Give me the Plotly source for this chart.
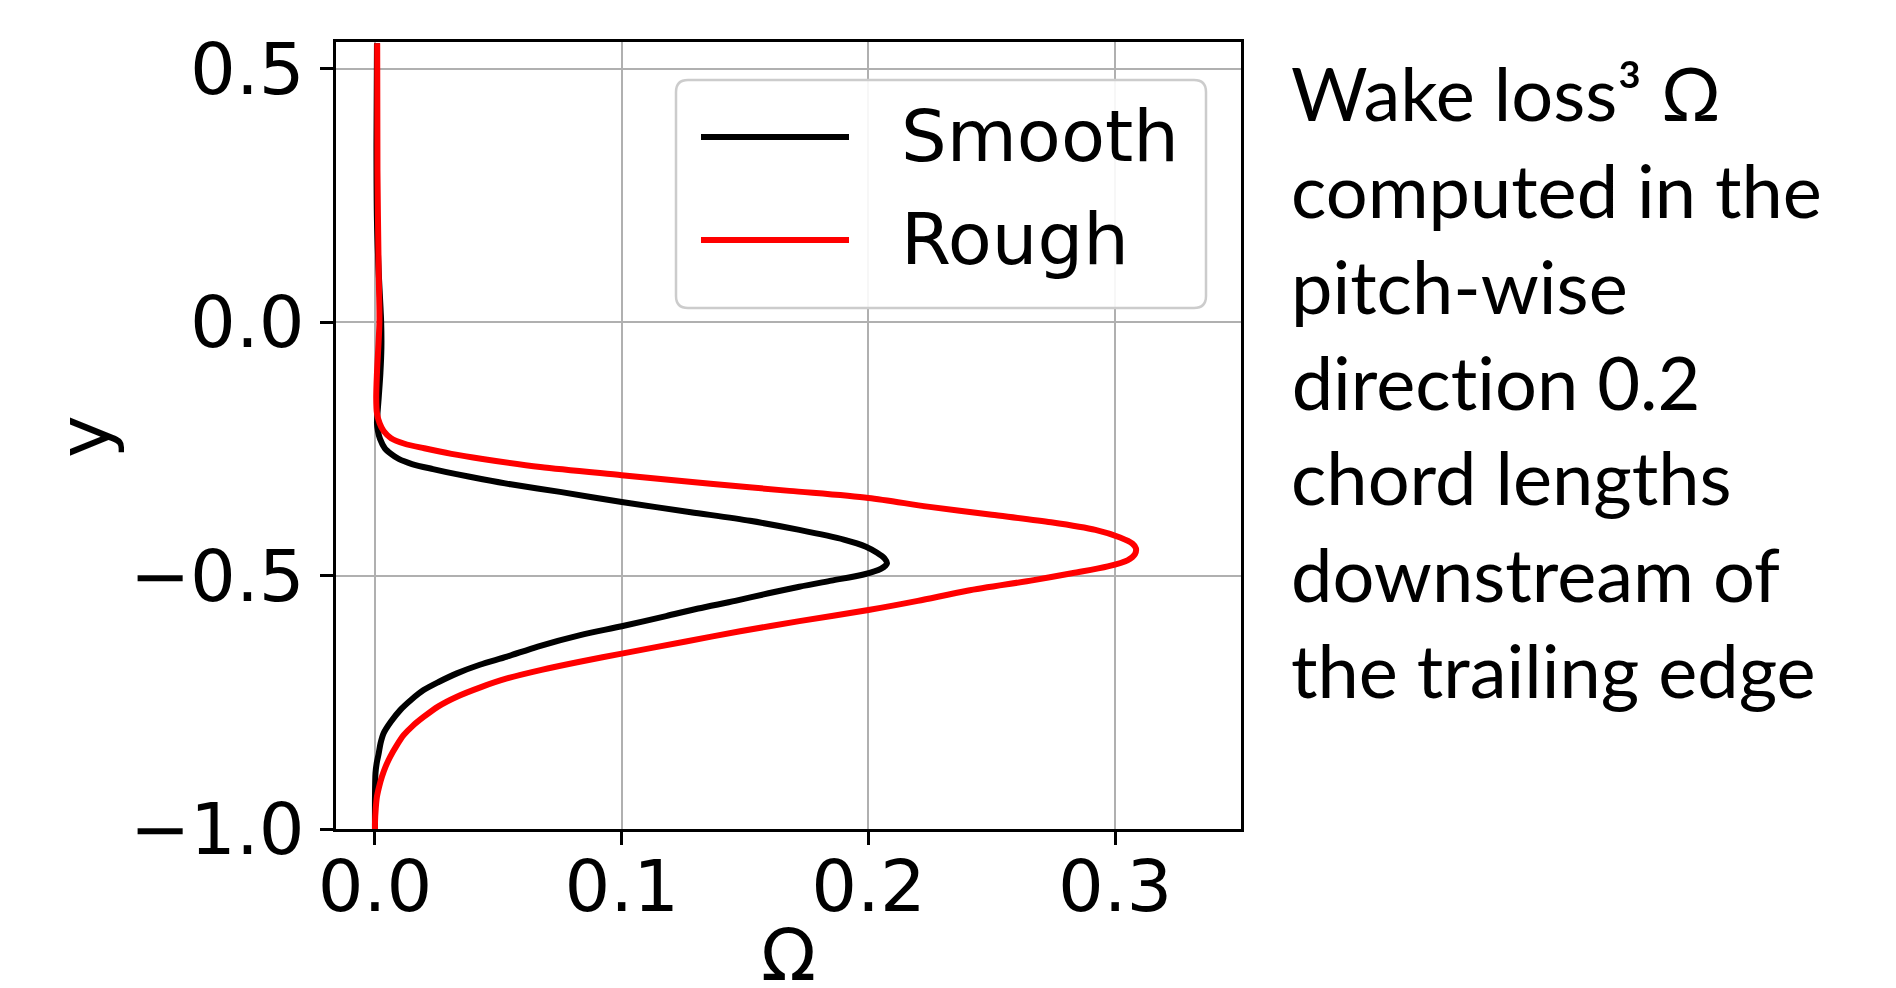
import plotly.graph_objects as go

# ---- data ----
smooth_y = [0.55, 0.35, 0.2, 0.1, 0.0, -0.05, -0.1, -0.15, -0.2, -0.215, -0.23, -0.249, -0.26,
            -0.27, -0.28, -0.29, -0.30, -0.31, -0.32, -0.335, -0.355, -0.375, -0.392, -0.41,
            -0.429, -0.443, -0.455, -0.466, -0.476, -0.487, -0.498, -0.51, -0.522, -0.535,
            -0.55, -0.565, -0.58, -0.60, -0.6174, -0.64, -0.66, -0.676, -0.693, -0.71, -0.726,
            -0.745, -0.765, -0.788, -0.811, -0.83, -0.851, -0.87, -0.89, -0.937, -1.0]
smooth_omega = [0.0008, 0.0006, 0.0008, 0.0015, 0.0025, 0.0026, 0.0022, 0.0015, 0.0008, 0.0012,
                0.0020, 0.0040, 0.0065, 0.0096, 0.0150, 0.0235, 0.033, 0.0436, 0.055, 0.075,
                0.100, 0.128, 0.152, 0.172, 0.190, 0.199, 0.2035, 0.2065, 0.2075, 0.205, 0.198,
                0.185, 0.172, 0.1595, 0.146, 0.131, 0.118, 0.100, 0.0832, 0.066, 0.0535, 0.0425,
                0.0332, 0.0258, 0.0197, 0.0147, 0.0103, 0.0065, 0.0035, 0.0023, 0.0015, 0.0007,
                0.0002, 0.0, 0.0]

rough_y = [0.55, 0.3, 0.1, 0.0, -0.1, -0.15, -0.18, -0.2, -0.215, -0.229, -0.24, -0.249, -0.26,
           -0.27, -0.286, -0.302, -0.319, -0.333, -0.347, -0.364, -0.38, -0.395, -0.41, -0.425,
           -0.437, -0.446, -0.458, -0.47, -0.482, -0.495, -0.509, -0.53, -0.55, -0.568, -0.59,
           -0.61, -0.63, -0.654, -0.670, -0.686, -0.703, -0.72, -0.739, -0.758, -0.779, -0.797,
           -0.815, -0.836, -0.857, -0.877, -0.897, -0.916, -0.936, -0.96, -0.988, -1.0]
rough_omega = [0.0009, 0.0010, 0.0015, 0.0018, 0.0008, 0.0005, 0.0008, 0.0019, 0.0035, 0.0065,
               0.012, 0.020, 0.031, 0.0436, 0.067, 0.100, 0.136, 0.168, 0.200, 0.224, 0.250,
               0.274, 0.292, 0.302, 0.307, 0.3084, 0.308, 0.305, 0.297, 0.283, 0.267, 0.240,
               0.220, 0.200, 0.172, 0.148, 0.126, 0.100, 0.083, 0.0675, 0.0535, 0.043, 0.0332,
               0.0257, 0.0197, 0.0152, 0.0116, 0.0087, 0.0062, 0.0043, 0.0028, 0.0017, 0.0008,
               0.0003, 0.0, 0.0]

series_names = ["Smooth", "Rough"]
series_colors = ["#000000", "#ff0000"]

x_ticks = [0.0, 0.1, 0.2, 0.3]
x_tick_labels = ["0.0", "0.1", "0.2", "0.3"]
y_ticks = [0.5, 0.0, -0.5, -1.0]
y_tick_labels = ["0.5", "0.0", "\u22120.5", "\u22121.0"]

note_lines = ["Wake loss\u00b3 \u03a9", "computed in the", "pitch-wise", "direction 0.2",
              "chord lengths", "downstream of", "the trailing edge"]

# ---- layout geometry (pixels) ----
W, H = 1896, 988
L, R, T, B = 336, 1241, 42, 829


def px(xp):
    return (xp - L) / (R - L)


def py(yp):
    return (B - yp) / (B - T)


fig = go.Figure()
fig.add_trace(go.Scatter(x=smooth_omega, y=smooth_y, mode="lines", name=series_names[0],
                         line=dict(color=series_colors[0], width=6, shape="spline",
                                   smoothing=0.8)))
fig.add_trace(go.Scatter(x=rough_omega, y=rough_y, mode="lines", name=series_names[1],
                         line=dict(color=series_colors[1], width=6, shape="spline",
                                   smoothing=0.8)))

tickfont = dict(family="DejaVu Sans", size=72, color="black")
fig.update_layout(
    width=W, height=H,
    margin=dict(l=L, r=W - R, t=T, b=H - B, pad=0),
    paper_bgcolor="white", plot_bgcolor="white",
    showlegend=False,
    xaxis=dict(range=[-0.0158, 0.351], tickvals=x_ticks, ticktext=x_tick_labels,
               showgrid=True, gridcolor="#b0b0b0", gridwidth=2,
               showline=True, linecolor="black", linewidth=3, mirror=True,
               ticks="outside", ticklen=13, tickwidth=3, tickcolor="black",
               tickfont=tickfont, zeroline=False, ticklabelstandoff=-20),
    yaxis=dict(range=[-1.0, 0.5525], tickvals=y_ticks, ticktext=y_tick_labels,
               showgrid=True, gridcolor="#b0b0b0", gridwidth=2,
               showline=True, linecolor="black", linewidth=3, mirror=True,
               ticks="outside", ticklen=13, tickwidth=3, tickcolor="black",
               tickfont=tickfont, zeroline=False, ticklabelstandoff=1),
)

# legend box (rounded) drawn manually
x0, x1, y0, y1, r = px(676), px(1206), py(308), py(80), 12
rx = r / (R - L)
ry = r / (B - T)
path = (f"M {x0+rx},{y1} L {x1-rx},{y1} Q {x1},{y1} {x1},{y1-ry} "
        f"L {x1},{y0+ry} Q {x1},{y0} {x1-rx},{y0} L {x0+rx},{y0} "
        f"Q {x0},{y0} {x0},{y0+ry} L {x0},{y1-ry} Q {x0},{y1} {x0+rx},{y1} Z")
fig.add_shape(type="path", path=path, xref="paper", yref="paper",
              line=dict(color="#cccccc", width=2.5), fillcolor="rgba(255,255,255,0.9)",
              layer="above")
for i, (nm, col) in enumerate(zip(series_names, series_colors)):
    yy = [137, 240][i]
    fig.add_shape(type="line", xref="paper", yref="paper", x0=px(701), x1=px(849),
                  y0=py(yy), y1=py(yy), line=dict(color=col, width=6), layer="above")
    fig.add_annotation(x=px(899), y=py(yy - 1), xref="paper", yref="paper", text=nm,
                       showarrow=False, xanchor="left", yanchor="middle",
                       font=dict(family="DejaVu Sans", size=72, color="black"))

# axis titles
fig.add_annotation(x=px(788), y=py(955), xref="paper", yref="paper", text="\u03a9",
                   showarrow=False, xanchor="center", yanchor="middle",
                   font=dict(family="DejaVu Sans", size=72, color="black"))
fig.add_annotation(x=px(84), y=py(437), xref="paper", yref="paper", text="y",
                   showarrow=False, xanchor="center", yanchor="middle", textangle=-90,
                   font=dict(family="DejaVu Sans", size=72, color="black"))

# right-hand note
for i, line in enumerate(note_lines):
    fig.add_annotation(x=px(1289), y=py(93 + 96 * i), xref="paper", yref="paper",
                       text=line, showarrow=False, xanchor="left", yanchor="middle",
                       font=dict(family="Lato", size=74, color="black"))

post = (
    "document.body.style.margin='0';"
    "var s=document.createElement('style');"
    "s.innerHTML='text{font-variant-ligatures:none !important;"
    "font-feature-settings:\"liga\" 0, \"clig\" 0 !important;}';"
    "document.head.appendChild(s);"
)
fig.write_html("out.html", post_script=post, config={"displayModeBar": False})
